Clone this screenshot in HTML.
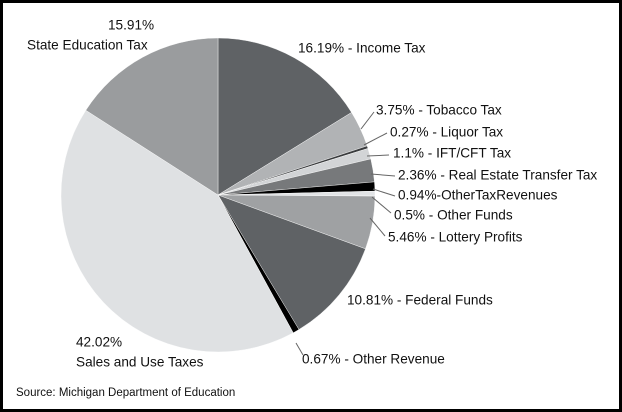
<!DOCTYPE html>
<html><head><meta charset="utf-8"><style>
html,body{margin:0;padding:0;background:#fff}
#c{position:relative;width:622px;height:412px;box-sizing:border-box;border:3px solid #000;overflow:hidden}
svg{position:absolute;left:-3px;top:-3px}
text{font-family:"Liberation Sans",sans-serif;font-size:13.6px;fill:#111;dominant-baseline:central}
</style></head><body><div id="c">
<svg width="622" height="412" viewBox="0 0 622 412">
<g id="pie"></g>
<g stroke="#666" stroke-width="1" fill="none">
<path d="M361,129 L374,112"/>
<path d="M364,145 L387,133"/>
<path d="M367,156 L389,155"/>
<path d="M371,174 L395,176"/>
<path d="M373,189 L395,196"/>
<path d="M372,197 L391,213"/>
<path d="M370,218 L385,236"/>
<path d="M296,343 L303,355"/>
</g>
<text x="108" y="25">15.91%</text>
<text x="27" y="45">State Education Tax</text>
<text x="298" y="48">16.19% - Income Tax</text>
<text x="376" y="110">3.75% - Tobacco Tax</text>
<text x="390" y="132">0.27% - Liquor Tax</text>
<text x="393" y="153">1.1% - IFT/CFT Tax</text>
<text x="398" y="175">2.36% - Real Estate Transfer Tax</text>
<text x="398" y="195">0.94%-OtherTaxRevenues</text>
<text x="394" y="215">0.5% - Other Funds</text>
<text x="388" y="237">5.46% - Lottery Profits</text>
<text x="347" y="300">10.81% - Federal Funds</text>
<text x="302" y="359">0.67% - Other Revenue</text>
<text x="76" y="342">42.02%</text>
<text x="76" y="362">Sales and Use Taxes</text>
<text x="16" y="393" style="font-size:11.5px">Source: Michigan Department of Education</text>
</svg></div>
<script>
var d=[[16.19,"#5f6265"],[3.75,"#b1b3b5"],[0.27,"#3a3c3e"],[1.1,"#d2d4d6"],[2.36,"#77797b"],[0.94,"#000"],[0.5,"#e2e4e6"],[5.46,"#9fa1a3"],[10.81,"#5f6265"],[0.67,"#000"],[42.02,"#dfe1e3"],[15.93,"#9a9c9e"]];
var cx=218,cy=195,r=157,a=0,h="";
d.forEach(function(s){var a2=a+s[0]/100*2*Math.PI;
var x1=cx+r*Math.sin(a),y1=cy-r*Math.cos(a),x2=cx+r*Math.sin(a2),y2=cy-r*Math.cos(a2);
h+='<path d="M'+cx+','+cy+' L'+x1.toFixed(2)+','+y1.toFixed(2)+' A'+r+','+r+' 0 '+(s[0]>50?1:0)+' 1 '+x2.toFixed(2)+','+y2.toFixed(2)+' Z" fill="'+s[1]+'" stroke="#fff" stroke-width="0.4"/>';a=a2;});
document.getElementById("pie").innerHTML=h;
</script>
</body></html>
